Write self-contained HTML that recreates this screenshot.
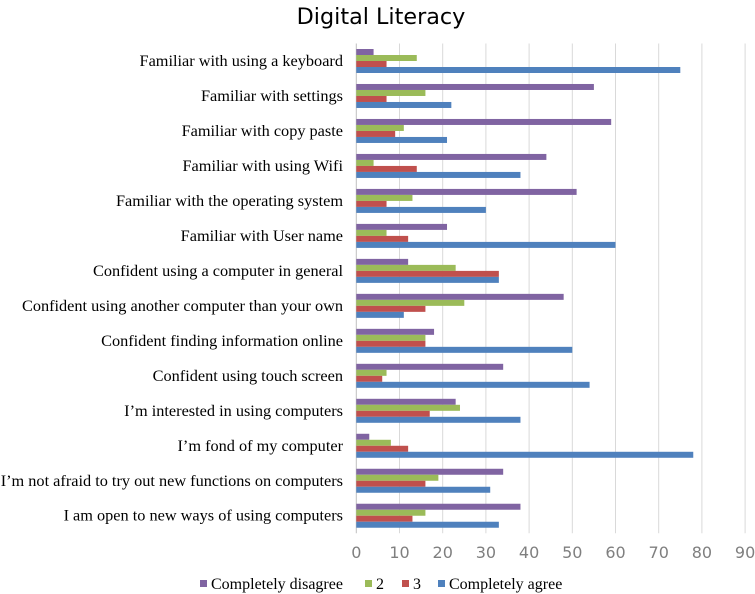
<!DOCTYPE html>
<html><head><meta charset="utf-8"><style>
body{margin:0;background:#fff;width:755px;height:594px;overflow:hidden}
svg{display:block}
</style></head><body>
<svg id="chart" width="755" height="594" xmlns="http://www.w3.org/2000/svg">
<text x="381" y="24" text-anchor="middle" font-family="DejaVu Sans, sans-serif" font-size="22.3" fill="#000">Digital Literacy</text>
<g id="grid"></g><g id="bars"></g><g id="ylabels"></g><g id="xlabels"></g>
<g id="legend"></g>
</svg>
<script>
const categories=["Familiar with using a keyboard","Familiar with settings","Familiar with copy paste","Familiar with using Wifi","Familiar with the operating system","Familiar with User name","Confident using a computer in general","Confident using another computer than your own","Confident finding information online","Confident using touch screen","I’m interested in using computers","I’m fond of my computer","I’m not afraid to try out new functions on computers","I am open to new ways of using computers"];
const seriesNames=["Completely disagree","2","3","Completely agree"];
const disagree=[4,55,59,44,51,21,12,48,18,34,23,3,34,38];
const two=[14,16,11,4,13,7,23,25,16,7,24,8,19,16];
const three=[7,7,9,14,7,12,33,16,16,6,17,12,16,13];
const agree=[75,22,21,38,30,60,33,11,50,54,38,78,31,33];
const xTicks=[0,10,20,30,40,50,60,70,80,90];
const colors=["#8064a2","#9bbb59","#c0504d","#4f81bd"];
const series=[disagree,two,three,agree];
const NS="http://www.w3.org/2000/svg";
const x0=356.3,xPer=4.32,plotTop=43.5,band=34.98,barH=6;
const xs=v=>x0+v*xPer;
function mk(t,a,p){const e=document.createElementNS(NS,t);for(const k in a)e.setAttribute(k,a[k]);p.appendChild(e);return e;}
const grid=document.getElementById('grid'),bars=document.getElementById('bars'),yl=document.getElementById('ylabels'),xl=document.getElementById('xlabels'),lg=document.getElementById('legend');
const plotBottom=plotTop+band*categories.length;
xTicks.forEach(t=>{
 const l=mk('line',{x1:xs(t),x2:xs(t),y1:plotTop,y2:plotBottom,stroke:t===0?'#bfbfbf':'#d9d9d9','stroke-width':1},grid);
 
 
 const tx=mk('text',{x:xs(t),y:558,'text-anchor':'middle','font-family':'DejaVu Sans, sans-serif','font-size':16,fill:'#7f7f7f'},xl);
 tx.textContent=t;
 
 
});
categories.forEach((c,i)=>{
 const gy=plotTop+band*i+5.5;
 series.forEach((s,j)=>{
  const r=mk('rect',{x:x0,y:gy+j*barH,width:Math.max(0,xs(s[i])-x0),height:barH,fill:colors[j]},bars);
  
  
 });
 const t=mk('text',{x:343,y:plotTop+band*i+band/2+5,'text-anchor':'end','font-family':'Liberation Serif, serif','font-size':16.3,fill:'#000'},yl);
 t.textContent=c;
 
 
});
const lx=[200,365,402,438];
seriesNames.forEach((n,j)=>{
 const r=mk('rect',{x:lx[j],y:580,width:7,height:7,fill:colors[j]},lg);
 
 
 const t=mk('text',{x:lx[j]+11,y:589,'font-family':'Liberation Serif, serif','font-size':16,fill:'#000'},lg);
 t.textContent=n;
 
 
});
</script>
</body></html>
